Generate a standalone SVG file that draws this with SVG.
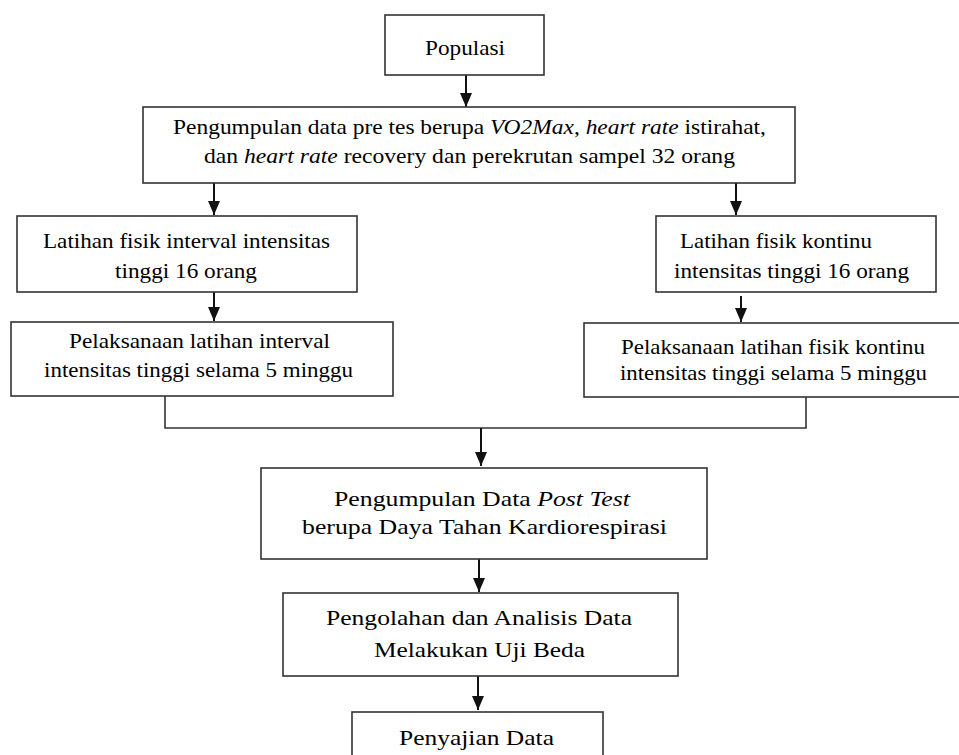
<svg xmlns="http://www.w3.org/2000/svg" width="959" height="755" viewBox="0 0 959 755">
<style>
.box{fill:#fff;stroke:#333;stroke-width:1.6}
.t{font-family:"Liberation Serif","Times New Roman",serif;font-size:22px;fill:#000}
.i{font-style:italic}
.c{fill:none;stroke:#111;stroke-width:2}
</style>
<defs>
<marker id="ah" viewBox="0 0 14 12" refX="14" refY="6" markerWidth="14" markerHeight="12" markerUnits="userSpaceOnUse" orient="auto">
<path d="M0,0 L14,6 L0,12 z" fill="#111"/>
</marker>
</defs>
<rect width="959" height="755" fill="#fff"/>
<g id="connectors">
<line class="c" x1="466" y1="75" x2="466" y2="107" marker-end="url(#ah)"/>
<line class="c" x1="214" y1="183" x2="214" y2="215" marker-end="url(#ah)"/>
<line class="c" x1="736" y1="183" x2="736" y2="215" marker-end="url(#ah)"/>
<line class="c" x1="214" y1="292" x2="214" y2="321" marker-end="url(#ah)"/>
<line class="c" x1="741" y1="296" x2="741" y2="322" marker-end="url(#ah)"/>
<polyline class="c" style="stroke:#333;stroke-width:1.6" points="165,396 165,428 806,428 806,397"/>
<line class="c" x1="481" y1="428" x2="481" y2="466" marker-end="url(#ah)"/>
<line class="c" x1="479" y1="559" x2="479" y2="592" marker-end="url(#ah)"/>
<line class="c" x1="478" y1="676" x2="478" y2="710" marker-end="url(#ah)"/>
</g>
<g id="populasi">
<rect class="box" x="385" y="15" width="159" height="60"/>
<text class="t" x="425" y="55" textLength="80" lengthAdjust="spacingAndGlyphs">Populasi</text>
</g>
<g id="pretes">
<rect class="box" x="143" y="107" width="652" height="76"/>
<text class="t" x="173" y="134" textLength="593" lengthAdjust="spacingAndGlyphs">Pengumpulan data pre tes berupa <tspan class="i">VO2Max</tspan>, <tspan class="i">heart rate</tspan> istirahat,</text>
<text class="t" x="204" y="163" textLength="531" lengthAdjust="spacingAndGlyphs">dan <tspan class="i">heart rate</tspan> recovery dan perekrutan sampel 32 orang</text>
</g>
<g id="latihan-interval">
<rect class="box" x="17" y="216" width="340" height="76"/>
<text class="t" x="43" y="248" textLength="287" lengthAdjust="spacingAndGlyphs">Latihan fisik interval intensitas</text>
<text class="t" x="115" y="278" textLength="142" lengthAdjust="spacingAndGlyphs">tinggi 16 orang</text>
</g>
<g id="latihan-kontinu">
<rect class="box" x="656" y="216" width="280" height="76"/>
<text class="t" x="680" y="248" textLength="192" lengthAdjust="spacingAndGlyphs">Latihan fisik kontinu</text>
<text class="t" x="674" y="278" textLength="235" lengthAdjust="spacingAndGlyphs">intensitas tinggi 16 orang</text>
</g>
<g id="pelaksanaan-interval">
<rect class="box" x="11" y="322" width="382" height="74"/>
<text class="t" x="69" y="348" textLength="261" lengthAdjust="spacingAndGlyphs">Pelaksanaan latihan interval</text>
<text class="t" x="44" y="377" textLength="309" lengthAdjust="spacingAndGlyphs">intensitas tinggi selama 5 minggu</text>
</g>
<g id="pelaksanaan-kontinu">
<rect class="box" x="584" y="323" width="378" height="74"/>
<text class="t" x="621" y="354" textLength="304" lengthAdjust="spacingAndGlyphs">Pelaksanaan latihan fisik kontinu</text>
<text class="t" x="620" y="380" textLength="307" lengthAdjust="spacingAndGlyphs">intensitas tinggi selama 5 minggu</text>
</g>
<g id="posttest">
<rect class="box" x="261" y="468" width="446" height="91"/>
<text class="t" x="334" y="506" textLength="296" lengthAdjust="spacingAndGlyphs">Pengumpulan Data <tspan class="i">Post Test</tspan></text>
<text class="t" x="302" y="534" textLength="365" lengthAdjust="spacingAndGlyphs">berupa Daya Tahan Kardiorespirasi</text>
</g>
<g id="analisis">
<rect class="box" x="283" y="593" width="395" height="83"/>
<text class="t" x="326" y="625" textLength="306" lengthAdjust="spacingAndGlyphs">Pengolahan dan Analisis Data</text>
<text class="t" x="374" y="657" textLength="211" lengthAdjust="spacingAndGlyphs">Melakukan Uji Beda</text>
</g>
<g id="penyajian">
<rect class="box" x="352" y="712" width="251" height="60"/>
<text class="t" x="399" y="745" textLength="155" lengthAdjust="spacingAndGlyphs">Penyajian Data</text>
</g>
</svg>
